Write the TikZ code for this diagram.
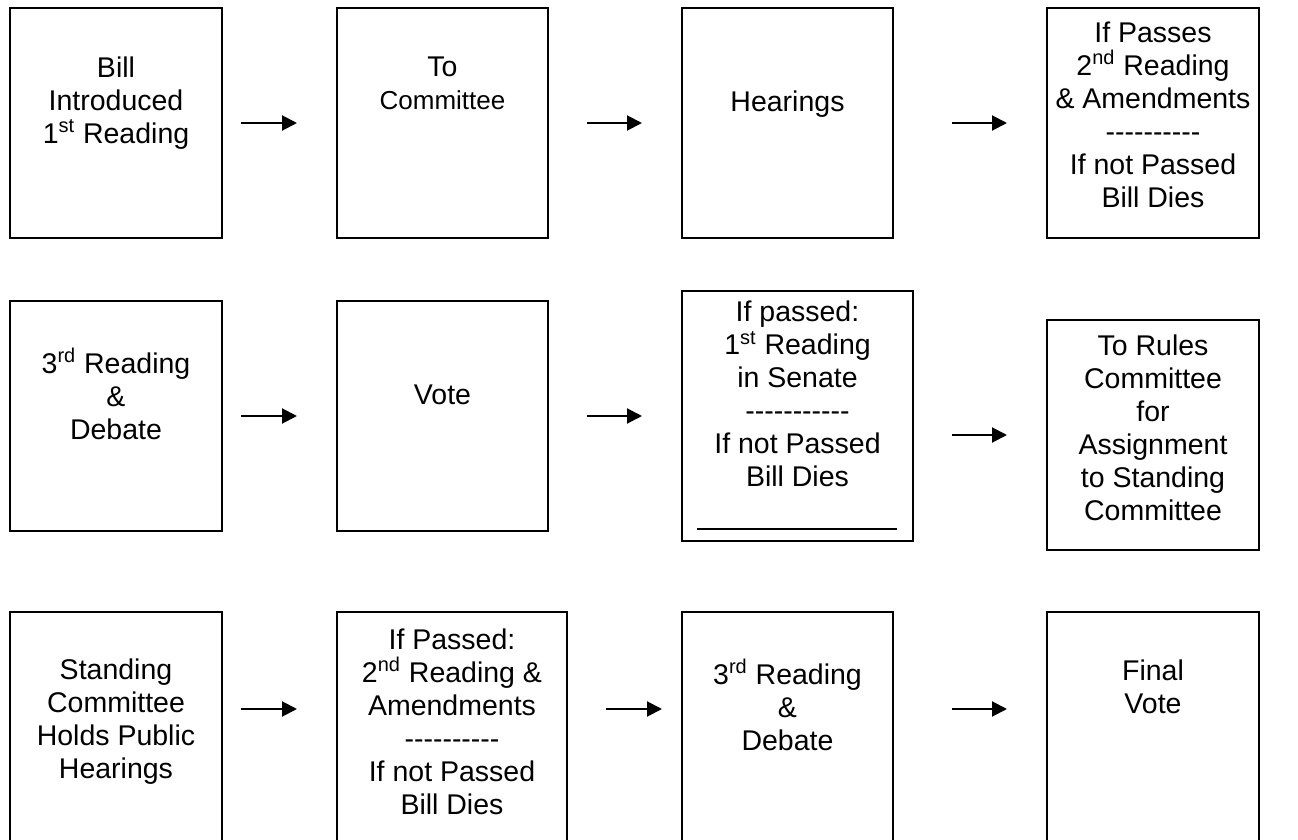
\documentclass[tikz,border=0pt]{standalone}
\usepackage{fontspec}
\newfontfamily\arialfont{Liberation Sans}
\usetikzlibrary{arrows.meta}
\usetikzlibrary{positioning}
\tikzset{
    stage/.style={
           rectangle,
           draw=black, line width=1pt,
           inner sep=0pt,
           minimum width=106pt,
           minimum height=115pt,
           },
    stagetext/.style={
           align=center,
           inner sep=0pt,
           font=\arialfont\fontsize{14.25}{16.5}\selectfont,
           execute at begin node=\strut,
           },
    flow/.style={
           -{Triangle[length=7.5pt,width=7.5pt]},
           line width=1pt,
           },
}

\begin{document}
\begin{tikzpicture}[x=0.5pt,y=-0.5pt]

    \useasboundingbox (0,0) rectangle (1298,840);
    \clip (0,0) rectangle (1298,840);

    \node[stage] (intro) at (116,123) {};
    \node[stage,minimum width=105.5pt] (committee) at (442.5,123) {};
    \node[stage,minimum width=105.5pt] (hearings) at (787.5,123) {};
    \node[stage] (second) at (1153,123) {};

    \node[stage] (third) at (116,416) {};
    \node[stage,minimum width=105.5pt] (vote) at (442.5,416) {};
    \node[stage,minimum width=115.5pt,minimum height=124.5pt] (senate) at (797.5,416) {};
    \node[stage] (rules) at (1153,435) {};

    \node[stage] (standing) at (116,727) {};
    \node[stage,minimum width=115pt] (sreading) at (452,727) {};
    \node[stage,minimum width=105.5pt] (sthird) at (787.5,727) {};
    \node[stage] (final) at (1153,727) {};

    \node[stagetext,below=24.5pt of intro.north]
        (introtext) {Bill\\Introduced\\1\textsuperscript{st} Reading};
    \node[stagetext,below=24.5pt of committee.north]
        (committeetext) {To\\{\fontsize{13}{16.5}\selectfont Committee}};
    \node[stagetext,below=40.5pt of hearings.north]
        (hearingstext) {Hearings};
    \node[stagetext,below=7pt of second.north]
        (secondtext) {If Passes\\2\textsuperscript{nd} Reading\\\& Amendments\\----------\\If not Passed\\Bill Dies};

    \node[stagetext,below=24pt of third.north]
        (thirdtext) {3\textsuperscript{rd} Reading\\\&\\Debate};
    \node[stagetext,below=40.5pt of vote.north]
        (votetext) {Vote};
    \node[stagetext,below=5pt of senate.north]
        (senatetext) {If passed:\\1\textsuperscript{st} Reading\\in Senate\\-----------\\If not Passed\\Bill Dies};
    \node[stagetext,below=7.5pt of rules.north]
        (rulestext) {To Rules\\Committee\\for\\Assignment\\to Standing\\Committee};

    \node[stagetext,below=23.5pt of standing.north]
        (standingtext) {Standing\\Committee\\Holds Public\\Hearings};
    \node[stagetext,below=8.5pt of sreading.north]
        (sreadingtext) {If Passed:\\2\textsuperscript{nd} Reading \&\\Amendments\\----------\\If not Passed\\Bill Dies};
    \node[stagetext,below=24pt of sthird.north]
        (sthirdtext) {3\textsuperscript{rd} Reading\\\&\\Debate};
    \node[stagetext,below=24pt of final.north]
        (finaltext) {Final\\Vote};

    \draw[line width=1pt] ([shift={(8pt,6.5pt)}]senate.south west) -- ([shift={(-8.5pt,6.5pt)}]senate.south east);

    \draw[flow] ([xshift=9pt]intro.east) -- ([xshift=-19.5pt]committee.west);
    \draw[flow] ([xshift=19pt]committee.east) -- ([xshift=-19.5pt]hearings.west);
    \draw[flow] ([xshift=29pt]hearings.east) -- ([xshift=-19.5pt]second.west);

    \draw[flow] ([xshift=9pt]third.east) -- ([xshift=-19.5pt]vote.west);
    \draw[flow] ([xshift=19pt]vote.east) -- ([xshift=-19.5pt]senate.west);
    \draw[flow] ([xshift=19pt,yshift=-9.5pt]senate.east) -- ([xshift=-19.5pt]rules.west);

    \draw[flow] ([xshift=9pt,yshift=9pt]standing.east) -- ([xshift=-19.5pt,yshift=9pt]sreading.west);
    \draw[flow] ([xshift=19pt,yshift=9pt]sreading.east) -- ([xshift=-9.5pt,yshift=9pt]sthird.west);
    \draw[flow] ([xshift=29pt,yshift=9pt]sthird.east) -- ([xshift=-19.5pt,yshift=9pt]final.west);

\end{tikzpicture}
\end{document}
